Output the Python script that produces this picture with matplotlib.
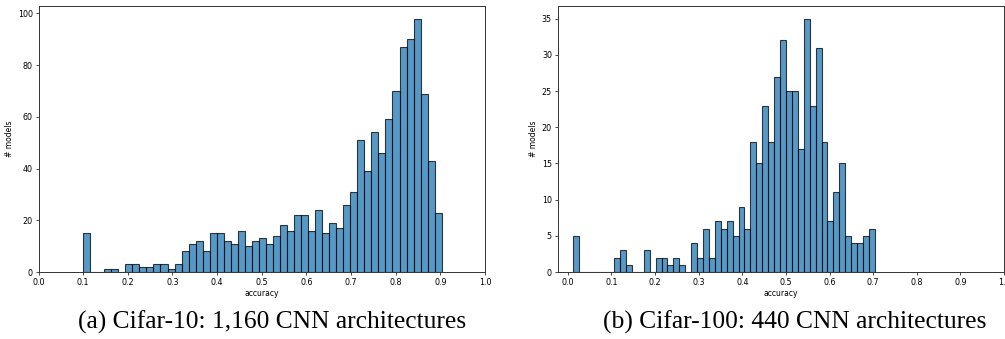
import numpy as np
import matplotlib
matplotlib.use("Agg")
import matplotlib.pyplot as plt

# histogram counts (51 bins each, between min and max accuracy)
c10_lo, c10_hi = 0.100, 0.903
c10_counts = [15, 0, 0, 1, 1, 0, 3, 3, 2, 2, 3, 3, 1, 3, 8, 11, 12, 8, 15, 15,
              12, 11, 16, 10, 12, 13, 11, 14, 18, 16, 22, 22, 16, 24, 15, 19, 17, 26, 31, 51,
              39, 54, 46, 59, 70, 87, 90, 98, 69, 43, 23]

c100_lo, c100_hi = 0.011, 0.704
c100_counts = [5, 0, 0, 0, 0, 0, 0, 2, 3, 1, 0, 0, 3, 0, 2, 2, 1, 2, 1, 0,
               4, 2, 6, 2, 7, 6, 7, 5, 9, 6, 18, 15, 23, 18, 27, 32, 25, 25, 17, 35,
               23, 31, 18, 7, 11, 15, 5, 4, 4, 5, 6]

captions = ["(a) Cifar-10: 1,160 CNN architectures",
            "(b) Cifar-100: 440 CNN architectures"]

W, H = 1005, 339
fig = plt.figure(figsize=(W/100, H/100), dpi=100)

ax1 = fig.add_axes([38.5/W, 1-272/H, 446.5/W, 266/H])
ax2 = fig.add_axes([557.5/W, 1-272/H, 446.5/W, 266/H])

def draw(ax, lo, hi, counts):
    edges = np.linspace(lo, hi, len(counts)+1)
    ax.hist(edges[:-1], bins=edges, weights=counts, color='#1f77b4', alpha=0.75,
            edgecolor='black', linewidth=0.8)
    ax.set_xlabel('accuracy', fontsize=5.5, labelpad=2)
    ax.set_ylabel('# models', fontsize=5.5, labelpad=3)
    ax.tick_params(labelsize=5.8, length=2, width=0.5, pad=2)
    for s in ax.spines.values():
        s.set_linewidth(0.7)
        s.set_color('#333333')

draw(ax1, c10_lo, c10_hi, c10_counts)
ax1.set_xlim(0, 1)
ax1.set_xticks(np.arange(0, 1.01, 0.1))

draw(ax2, c100_lo, c100_hi, c100_counts)
ax2.set_xlim(None, 1.0)
ax2.set_xticks(np.arange(0, 1.01, 0.1))

fig.text(272/W, 1-322/H, captions[0], ha='center', va='center',
         fontsize=18.4, family='Liberation Serif')
fig.text(795/W, 1-322/H, captions[1], ha='center', va='center',
         fontsize=18.4, family='Liberation Serif')

fig.savefig('out.png', dpi=100)
